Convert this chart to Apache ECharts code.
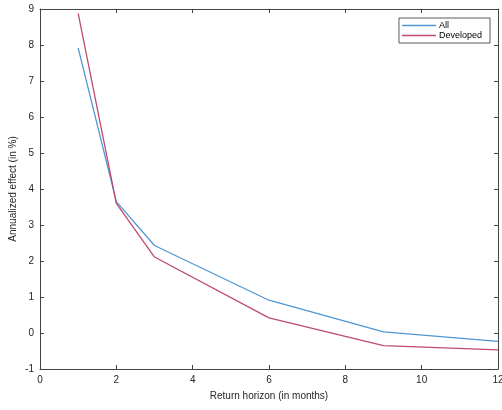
<!DOCTYPE html>
<html>
<head>
<meta charset="utf-8">
<script src="https://cdn.jsdelivr.net/npm/echarts@6/dist/echarts.min.js"></script>
<style>
  html, body { margin: 0; padding: 0; background: #fff; }
  #chart { width: 502px; height: 410px; }
</style>
</head>
<body>
<div id="chart"></div>
<script>
  // return horizons (months)
  var horizons = [1, 2, 3, 6, 9, 12]
  var allValues = [7.92, 3.65, 2.43, 0.91, 0.03, -0.23]
  var developedValues = [8.88, 3.6, 2.11, 0.42, -0.35, -0.47]

  var axisColor = '#444'
  var labelColor = '#262626'

  function pairs(xs, ys) {
    return xs.map(function (x, i) { return [x, ys[i]] })
  }

  var chart = echarts.init(document.getElementById('chart'))
  chart.setOption({
    animation: false,
    grid: { left: 40, right: 4, top: 9, bottom: 41, outerBoundsMode: 'none', containLabel: false },
    legend: {
      orient: 'vertical',
      right: 12,
      top: 18,
      icon: 'rect',
      itemWidth: 34,
      itemHeight: 1.5,
      itemGap: 1,
      padding: [3, 8, 3, 3],
      borderColor: '#333',
      borderWidth: 0.8,
      backgroundColor: '#fff',
      textStyle: { fontFamily: 'Liberation Sans', fontSize: 9, color: '#000', padding: [0, 0, 0, -2] },
      data: ['All', 'Developed']
    },
    xAxis: [
      {
        type: 'value', min: 0, max: 12, interval: 2,
        name: 'Return horizon (in months)', nameLocation: 'middle', nameGap: 22,
        nameTextStyle: { fontFamily: 'Liberation Sans', fontSize: 10, color: labelColor },
        axisLine: { onZero: false, lineStyle: { color: axisColor, width: 1 } },
        axisTick: { inside: true, length: 4, lineStyle: { color: axisColor } },
        axisLabel: { fontFamily: 'Liberation Sans', fontSize: 10, color: labelColor, margin: 6 },
        splitLine: { show: false }
      },
      {
        type: 'value', min: 0, max: 12, interval: 2, position: 'top',
        axisLine: { onZero: false, lineStyle: { color: axisColor, width: 1 } },
        axisTick: { inside: true, length: 4, lineStyle: { color: axisColor } },
        axisLabel: { show: false },
        splitLine: { show: false }
      }
    ],
    yAxis: [
      {
        type: 'value', min: -1, max: 9, interval: 1,
        name: 'Annualized effect (in %)', nameLocation: 'middle', nameGap: 22,
        nameMoveOverlap: false,
        nameTextStyle: { fontFamily: 'Liberation Sans', fontSize: 10, color: labelColor },
        axisLine: { show: true, onZero: false, lineStyle: { color: axisColor, width: 1 } },
        axisTick: { show: true, inside: true, length: 4, lineStyle: { color: axisColor } },
        axisLabel: { fontFamily: 'Liberation Sans', fontSize: 10, color: labelColor, margin: 6 },
        splitLine: { show: false }
      },
      {
        type: 'value', min: -1, max: 9, interval: 1, position: 'right',
        axisLine: { show: true, onZero: false, lineStyle: { color: axisColor, width: 1 } },
        axisTick: { show: true, inside: true, length: 4, lineStyle: { color: axisColor } },
        axisLabel: { show: false },
        splitLine: { show: false }
      }
    ],
    series: [
      {
        name: 'All',
        type: 'line',
        data: pairs(horizons, allValues),
        showSymbol: false,
        symbol: 'none',
        color: '#4f97d4',
        lineStyle: { width: 1.3 }
      },
      {
        name: 'Developed',
        type: 'line',
        data: pairs(horizons, developedValues),
        showSymbol: false,
        symbol: 'none',
        color: '#bf4a6f',
        lineStyle: { width: 1.3 }
      }
    ]
  })
</script>
</body>
</html>
